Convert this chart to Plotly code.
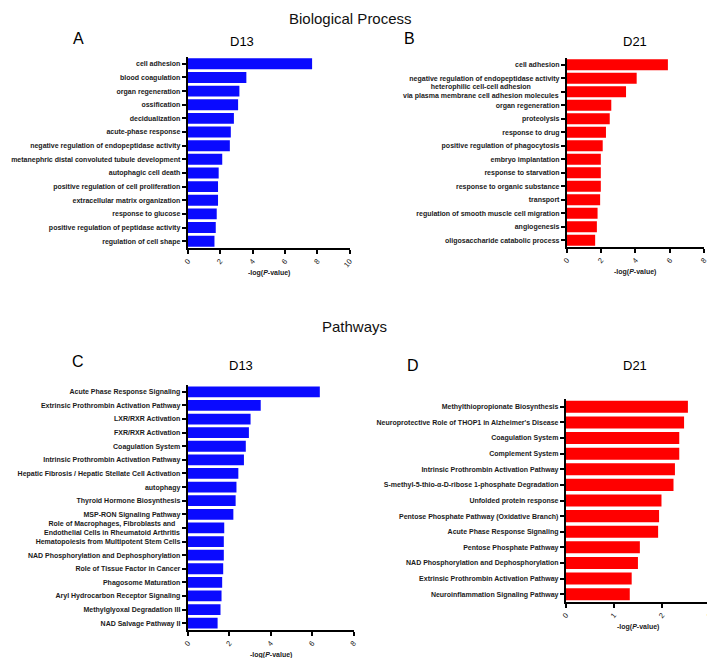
import plotly.graph_objects as go

# ---------------- data ----------------
a_terms = ["cell adhesion", "blood coagulation", "organ regeneration", "ossification",
           "decidualization", "acute-phase response",
           "negative regulation of endopeptidase activity",
           "metanephric distal convoluted tubule development", "autophagic cell death",
           "positive regulation of cell proliferation", "extracellular matrix organization",
           "response to glucose", "positive regulation of peptidase activity",
           "regulation of cell shape"]
a_vals = [7.68, 3.62, 3.19, 3.11, 2.85, 2.66, 2.60, 2.13, 1.91, 1.87, 1.87, 1.79, 1.73, 1.65]

b_terms = ["cell adhesion", "negative regulation of endopeptidase activity",
           "heterophilic cell-cell adhesion<br>via plasma membrane cell adhesion molecules",
           "organ regeneration", "proteolysis", "response to drug",
           "positive regulation of phagocytosis", "embryo implantation",
           "response to starvation", "response to organic substance", "transport",
           "regulation of smooth muscle cell migration", "angiogenesis",
           "oligosaccharide catabolic process"]
b_vals = [5.89, 4.07, 3.45, 2.59, 2.50, 2.28, 2.09, 1.98, 1.98, 1.98, 1.94, 1.79, 1.75, 1.65]

c_terms = ["Acute Phase Response Signaling", "Extrinsic Prothrombin Activation Pathway",
           "LXR/RXR Activation", "FXR/RXR Activation", "Coagulation System",
           "Intrinsic Prothrombin Activation Pathway",
           "Hepatic Fibrosis / Hepatic Stellate Cell Activation", "autophagy",
           "Thyroid Hormone Biosynthesis", "MSP-RON Signaling Pathway",
           "Role of Macrophages, Fibroblasts and<br>Endothelial Cells in Rheumatoid Arthritis",
           "Hematopoiesis from Multipotent Stem Cells",
           "NAD Phosphorylation and Dephosphorylation", "Role of Tissue Factor in Cancer",
           "Phagosome Maturation", "Aryl Hydrocarbon Receptor Signaling",
           "Methylglyoxal Degradation III", "NAD Salvage Pathway II"]
c_vals = [6.37, 3.52, 3.03, 2.95, 2.80, 2.71, 2.44, 2.35, 2.31, 2.20, 1.76, 1.74, 1.74,
          1.71, 1.66, 1.63, 1.58, 1.44]

d_terms = ["Methylthiopropionate Biosynthesis",
           "Neuroprotective Role of THOP1 in Alzheimer's Disease", "Coagulation System",
           "Complement System", "Intrinsic Prothrombin Activation Pathway",
           "S-methyl-5-thio-α-D-ribose 1-phosphate Degradation",
           "Unfolded protein response", "Pentose Phosphate Pathway (Oxidative Branch)",
           "Acute Phase Response Signaling", "Pentose Phosphate Pathway",
           "NAD Phosphorylation and Dephosphorylation",
           "Extrinsic Prothrombin Activation Pathway", "Neuroinflammation Signaling Pathway"]
d_vals = [2.54, 2.46, 2.36, 2.36, 2.27, 2.24, 1.99, 1.94, 1.92, 1.54, 1.50, 1.37, 1.33]

x_ranges = [10, 8, 8, 3]
x_dticks = [2, 2, 2, 1]
panel_letters = ["A", "B", "C", "D"]
panel_titles = ["D13", "D21", "D13", "D21"]
section_titles = ["Biological Process", "Pathways"]
x_title = "-log(<i>P</i>-value)"

BLUE = "#0a0aff"
RED = "#ff0000"
FONT = "Liberation Sans, Arial, sans-serif"
PAGE_W, PAGE_H = 715, 658
OFF = 8  # default page body margin
W, H = PAGE_W - OFF, PAGE_H - OFF


def px(xp):
    return (xp - OFF) / W


def py(yp):
    return 1 - (yp - OFF) / H


# pixel boxes (page coords) of the plot areas: (left, right, top, bottom)
boxes = [(185, 349, 57, 248), (569, 708, 58, 247), (185, 353, 385, 630), (568, 714, 399, 602)]
gaps = [0.2, 0.2, 0.21, 0.23]

panels = [(a_terms, a_vals, BLUE), (b_terms, b_vals, RED),
          (c_terms, c_vals, BLUE), (d_terms, d_vals, RED)]

fig = go.Figure()
annotations = []
layout = {}
label_font = dict(family=FONT, size=7, color="#1a1a1a", weight="bold")

for i, ((terms, vals, color), (l, r, t, b)) in enumerate(zip(panels, boxes)):
    n = i + 1
    xa = "x" if n == 1 else f"x{n}"
    ya = "y" if n == 1 else f"y{n}"
    fig.add_trace(go.Bar(x=vals, y=terms, orientation="h", xaxis=xa, yaxis=ya,
                         marker=dict(color=color, line=dict(width=0)),
                         width=1 - gaps[i], showlegend=False))
    ticktext = ["" if "<br>" in s else s for s in terms]
    layout["xaxis" if n == 1 else f"xaxis{n}"] = dict(
        domain=[px(l), min(px(r), 1)], anchor=ya, range=[0, x_ranges[i]],
        tick0=0, dtick=x_dticks[i], showgrid=False, zeroline=False,
        showline=True, linecolor="black", linewidth=2,
        ticks="outside", ticklen=4, tickwidth=1.5, tickcolor="black",
        tickangle=-50, ticklabeloverflow="allow",
        tickfont=dict(family=FONT, size=7.5, color="#1a1a1a"))
    layout["yaxis" if n == 1 else f"yaxis{n}"] = dict(
        domain=[py(b), py(t)], anchor=xa, type="category",
        range=[len(terms) - 0.5, -0.5], tickvals=terms, ticktext=ticktext,
        showgrid=False, zeroline=False, showline=True, linecolor="black", linewidth=2,
        ticks="outside", ticklen=4, tickwidth=1.5, tickcolor="black",
        tickfont=label_font)
    for s in terms:
        if "<br>" in s:
            annotations.append(dict(text=s, xref=f"{xa} domain", yref=ya, x=0, y=s,
                                    xanchor="right", yanchor="middle", align="center",
                                    xshift=-6, showarrow=False, font=label_font))
    # axis title
    annotations.append(dict(text=x_title, xref=f"{xa} domain", yref=f"{ya} domain",
                            x=0.5, y=0, yshift=-25, xanchor="center", yanchor="middle",
                            showarrow=False,
                            font=dict(family=FONT, size=7, color="#1a1a1a", weight="bold")))

# panel letters and subtitles (page pixel centres)
letter_pos = [(74, 38), (410, 38), (74, 361), (413, 365)]
title_pos = [(240, 41), (638, 42), (239, 365), (638, 365)]
for (lx, ly), (tx, ty), letter, ttl in zip(letter_pos, title_pos, panel_letters, panel_titles):
    annotations.append(dict(text=letter, xref="paper", yref="paper", x=px(lx), y=py(ly),
                            xanchor="center", yanchor="middle", showarrow=False,
                            font=dict(family=FONT, size=16, color="black")))
    annotations.append(dict(text=ttl, xref="paper", yref="paper", x=px(tx), y=py(ty),
                            xanchor="center", yanchor="middle", showarrow=False,
                            font=dict(family=FONT, size=13, color="black")))

# section headings
annotations.append(dict(text=section_titles[0], xref="paper", yref="paper", x=px(350), y=1,
                        xanchor="center", yanchor="top", showarrow=False,
                        font=dict(family=FONT, size=15, color="#111")))
annotations.append(dict(text=section_titles[1], xref="paper", yref="paper", x=px(354),
                        y=py(326), xanchor="center", yanchor="middle", showarrow=False,
                        font=dict(family=FONT, size=15, color="#111")))

fig.update_layout(width=W, height=H, margin=dict(l=0, r=0, t=0, b=0),
                  paper_bgcolor="white", plot_bgcolor="white",
                  annotations=annotations, **layout)

fig.write_html("out.html")
